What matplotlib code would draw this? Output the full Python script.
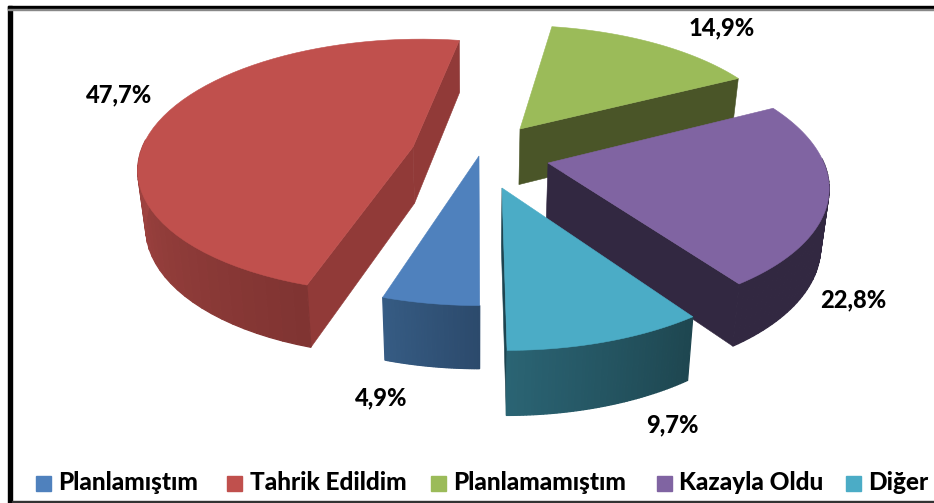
import numpy as np
import matplotlib
matplotlib.use("Agg")
import matplotlib.pyplot as plt
from matplotlib.colors import to_rgb
from matplotlib.patches import Polygon, Rectangle

# Chart data
categories = ["Planlamıştım", "Tahrik Edildim", "Planlamamıştım", "Kazayla Oldu", "Diğer"]
shares = [4.9, 47.7, 14.9, 22.8, 9.7]
share_labels = ["4,9%", "47,7%", "14,9%", "22,8%", "9,7%"]

# Styling per slice
top_colors = ["#4F81BD", "#C0504D", "#9BBB59", "#8064A2", "#4BACC6"]
wall_colors = ["#2c4a6c", "#913a38", "#4A5528", "#322841", "#1d4450"]
outer_start = ["#2c4a6c", "#803432", "#4A5528", "#322841", "#1e4650"]
outer_end = ["#365c84", "#a54643", "#4A5528", "#322841", "#2b6575"]
outer_span = [18, 80, 1, 1, 36]
apexes = [(479, 156), (413, 147), (520, 129), (548, 163), (502, 188)]
label_pos = [(381, 398), (119, 95), (722, 28), (853, 300), (672, 425)]
legend_boxes = [36, 227, 431, 657, 846]
legend_text = [58, 250, 453, 679, 868]
draw_order = [2, 1, 3, 0, 4]

FONT = "Lato"
CX, CY = 475.0, 145.0
RX, RY = 270.0, 123.5
K = 0.15
FIRST_ANGLE = 180.0


def project(apex, theta):
    """Perspective projection of a rim point of a slice, theta clockwise from the back."""
    t = CY - apex[1]
    ay = t / (RY - K * t)
    ax = (apex[0] - CX) * (1 + K * ay)
    xw = ax + RX * np.sin(np.radians(theta))
    yw = ay + np.cos(np.radians(theta))
    s = 1 / (1 + K * yw)
    return np.column_stack([CX + xw * s, CY - RY * yw * s])


def extrude(pts):
    """Move top-face points down to the bottom face."""
    pts = np.asarray(pts, dtype=float)
    x = pts[:, 0] + (CX - pts[:, 0]) * 0.024
    y = pts[:, 1] + 50 + 0.043 * pts[:, 1]
    return np.column_stack([x, y])


def mix(c0, c1, t):
    return tuple(np.array(to_rgb(c0)) * (1 - t) + np.array(to_rgb(c1)) * t)


def face(ax, pts, color, lw=0.4):
    ax.add_patch(Polygon(pts, closed=True, facecolor=color, edgecolor=color, linewidth=lw))


def draw_slice(ax, i, start, end):
    apex = np.array(apexes[i], dtype=float)
    thetas = np.linspace(start, end, 60)
    rim = project(apexes[i], thetas)
    mid = rim[30]

    # radial walls, skipped when they face away from the viewer
    for corner in (rim[0], rim[-1]):
        edge = corner - apex
        side_top = edge[0] * (mid - apex)[1] - edge[1] * (mid - apex)[0]
        drop = extrude([apex])[0] - apex
        side_drop = edge[0] * drop[1] - edge[1] * drop[0]
        if side_top * side_drop < 0:
            quad = np.vstack([apex, corner, extrude([corner]), extrude([apex])])
            face(ax, quad, wall_colors[i])

    # outer wall as thin strips for the shading, front part only
    low = extrude(rim)
    for j in range(len(rim) - 1):
        if np.cos(np.radians(thetas[j])) > 0.05:
            continue
        t = min((thetas[j] - start) / outer_span[i], 1.0)
        quad = np.vstack([rim[j], rim[j + 1], low[j + 1], low[j]])
        face(ax, quad, mix(outer_start[i], outer_end[i], t), lw=0.9)

    face(ax, np.vstack([apex, rim]), top_colors[i])


fig = plt.figure(figsize=(9.34, 5.03), dpi=100)
ax = fig.add_axes([0, 0, 1, 1])
ax.set_xlim(0, 934)
ax.set_ylim(503, 0)
ax.axis("off")

# frame
ax.add_patch(Rectangle((8, 6), 926, 3, color="black"))
ax.add_patch(Rectangle((8, 6), 4, 497, color="black"))
ax.add_patch(Rectangle((8, 9), 926, 1, color="#888888"))
ax.add_patch(Rectangle((12, 501), 922, 1.2, color="#333333"))

bounds = FIRST_ANGLE + np.cumsum([0] + shares) * 3.6 * 100 / sum(shares)
for i in draw_order:
    draw_slice(ax, i, bounds[i], bounds[i + 1])

for (x, y), text in zip(label_pos, share_labels):
    ax.text(x, y, text, ha="center", va="center", fontsize=17, fontweight="black", family=FONT, color="black")

for i, name in enumerate(categories):
    ax.add_patch(Rectangle((legend_boxes[i], 476), 15, 15, color=top_colors[i]))
    ax.text(legend_text[i], 490, name, ha="left", va="baseline", fontsize=17.6, fontweight="black", family=FONT, color="black")

fig.savefig("out.png", dpi=100)
